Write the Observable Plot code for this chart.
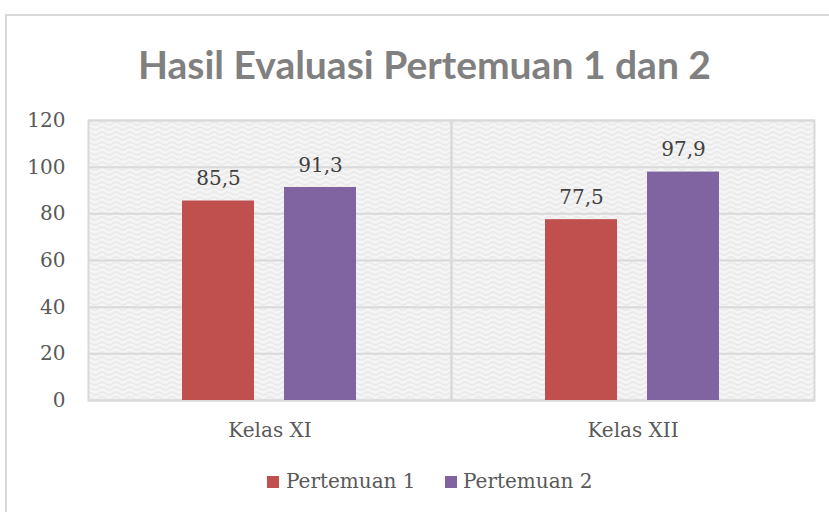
<!DOCTYPE html>
<html>
<head>
<meta charset="utf-8">
<script src="https://cdn.jsdelivr.net/npm/d3@7"></script>
<script src="https://cdn.jsdelivr.net/npm/@observablehq/plot@0.6"></script>
<style>
  html, body { margin: 0; padding: 0; background: #fff; width: 829px; height: 512px; overflow: hidden; }
  #frame { position: absolute; left: 5px; top: 14px; width: 860px; height: 560px; border: 2px solid #d9d9d9; box-sizing: border-box; }
  #title { position: absolute; left: 0; width: 849px; top: 38px; text-align: center; font-family: Lato, sans-serif; font-weight: bold; font-size: 39px; color: #808080; line-height: 52px; }
  #chart { position: absolute; left: 0; top: 100px; }
  #legend { position: absolute; left: 0; top: 466px; width: 829px; font-family: "DejaVu Serif", serif; font-size: 20px; color: #595959; }
  .item { position: absolute; top: 0; line-height: 30px; white-space: nowrap; }
  .sw { position: absolute; top: 10px; width: 12px; height: 12px; }
</style>
</head>
<body>
<div id="frame"></div>
<div id="title">Hasil Evaluasi Pertemuan 1 dan 2</div>
<div id="chart"></div>
<div id="legend"></div>
<script>
const classes = ["Kelas XI", "Kelas XII"];
const series = ["Pertemuan 1", "Pertemuan 2"];
const pertemuan1 = [85.5, 77.5];
const pertemuan2 = [91.3, 97.9];
const yTicks = [0, 20, 40, 60, 80, 100, 120];
const colors = ["#c0504d", "#8064a2"];

const data = [];
classes.forEach((c, i) => {
  data.push({kelas: c, seri: series[0], nilai: pertemuan1[i]});
  data.push({kelas: c, seri: series[1], nilai: pertemuan2[i]});
});
const fmt = v => String(v).replace(".", ",");

const plot = Plot.plot({
  width: 829,
  height: 360,
  marginTop: 20,
  marginBottom: 60,
  marginLeft: 88,
  marginRight: 15,
  style: {fontFamily: "DejaVu Serif, serif", fontSize: "20px", color: "#595959", background: "transparent"},
  fx: {domain: classes, paddingInner: 0, paddingOuter: 0, label: null},
  x: {domain: series, paddingInner: 0.294, paddingOuter: 0.926, axis: null},
  y: {domain: [0, 120], ticks: yTicks, label: null},
  color: {domain: series, range: colors},
  marks: [
    Plot.frame({fill: "url(#bgpat)"}),
    Plot.gridY(yTicks, {stroke: "#d9d9d9", strokeOpacity: 1, strokeWidth: 2}),
    Plot.frame({stroke: "#d9d9d9", strokeWidth: 2}),
    Plot.axisY(yTicks, {tickSize: 0, tickPadding: 23, label: null, fontSize: 20}),
    Plot.axisFx({anchor: "bottom", tickSize: 0, tickPadding: 22, label: null, fontSize: 20}),
    Plot.barY(data, {fx: "kelas", x: "seri", y: "nilai", fill: "seri"}),
    Plot.text(data, {fx: "kelas", x: "seri", y: "nilai", text: d => fmt(d.nilai), dy: -22, fill: "#404040", fontSize: 20})
  ]
});

// background pattern
const svg = d3.select(plot);
const defs = svg.insert("defs", ":first-child");
const pat = defs.append("pattern").attr("id", "bgpat").attr("patternUnits", "userSpaceOnUse")
  .attr("width", 14).attr("height", 10);
pat.append("rect").attr("width", 14).attr("height", 10).attr("fill", "#f5f5f5");
pat.append("path").attr("d", "M0 3 Q3.5 0 7 3 T14 3 M0 8 Q3.5 5 7 8 T14 8")
  .attr("fill", "none").attr("stroke", "#e6e6e6").attr("stroke-width", 1.5);

document.getElementById("chart").appendChild(plot);

const legend = document.getElementById("legend");
const positions = [[267, 286], [445, 463]];
series.forEach((s, i) => {
  const sw = document.createElement("div");
  sw.className = "sw";
  sw.style.left = positions[i][0] + "px";
  sw.style.background = colors[i];
  legend.appendChild(sw);
  const t = document.createElement("div");
  t.className = "item";
  t.style.left = positions[i][1] + "px";
  t.textContent = s;
  legend.appendChild(t);
});
</script>
</body>
</html>
